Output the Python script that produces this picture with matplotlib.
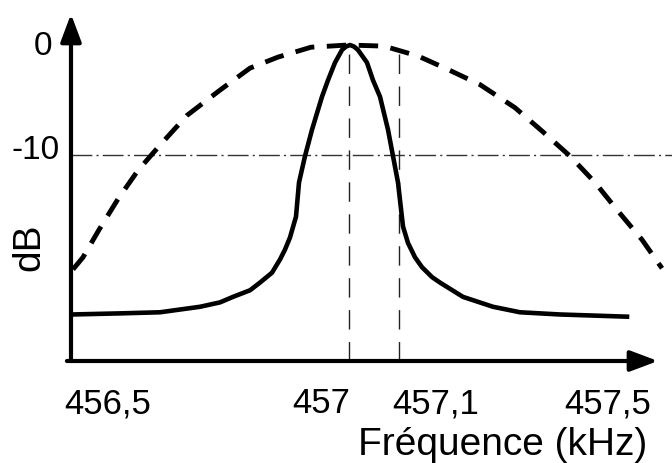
import matplotlib
matplotlib.use('Agg')
import matplotlib.pyplot as plt
import matplotlib.transforms as mtrans

plt.rcParams['font.family'] = ['Liberation Sans', 'DejaVu Sans']
plt.rcParams['lines.scale_dashes'] = False

# --- data (kHz, dB) ---
# narrow filter response (solid)
freq_filtre = [456.446, 456.542, 456.622, 456.702, 456.742, 456.768, 456.802,
               456.822, 456.846, 456.862, 456.872, 456.882, 456.894, 456.900,
               456.912, 456.926, 456.946, 456.958, 456.972, 456.986, 456.994,
               457.002, 457.010, 457.018, 457.036, 457.048, 457.062, 457.078,
               457.088, 457.098, 457.108, 457.118, 457.132, 457.146, 457.166,
               457.182, 457.228, 457.288, 457.342, 457.422, 457.556]
db_filtre = [-24.5, -24.4, -24.3, -23.8, -23.4, -22.9, -22.3,
             -21.6, -20.7, -19.5, -18.6, -17.5, -15.6, -12.5,
             -10.1, -7.7, -4.7, -3.2, -1.6, -0.45, -0.14,
             0.0, -0.14, -0.45, -1.6, -3.2, -4.7, -7.7,
             -10.1, -12.5, -16.5, -18.0, -19.3, -20.2, -21.1,
             -21.6, -22.9, -23.8, -24.3, -24.5, -24.7]

# wide band response (dashed)
freq_large = [456.448, 456.468, 456.500, 456.538, 456.578, 456.622, 456.676,
              456.742, 456.802, 456.858, 456.924, 456.998, 457.070, 457.138,
              457.192, 457.262, 457.332, 457.388, 457.442, 457.492, 457.538,
              457.586, 457.626]
db_large = [-20.4, -19.3, -16.8, -14.0, -11.4, -9.1, -6.4,
            -4.1, -2.1, -1.1, -0.2, 0.0, -0.1, -1.0,
            -2.1, -3.6, -5.7, -7.9, -10.1, -12.5, -15.1,
            -17.7, -20.3]

f_marques = [457.0, 457.1]
niveau_ref = -10

xtick_vals = [456.5, 457.0, 457.1, 457.5]
xtick_labels = ['456,5', '457', '457,1', '457,5']
ytick_vals = [0, -10]
ytick_labels = ['0', '-10']

# --- figure ---
fig = plt.figure(figsize=(6.72, 4.63), dpi=100)
ax = fig.add_axes([71 / 672, 102 / 463, 587 / 672, 347 / 463])
ax.set_xlim(456.444, 457.618)
ax.set_ylim(-28.73, 2.82)
for sp in ax.spines.values():
    sp.set_visible(False)
ax.set_xticks([])
ax.set_yticks([])

# axes as arrows
arrow = dict(arrowstyle='-|>,head_length=1.2,head_width=0.45', lw=3, color='black',
             mutation_scale=14, shrinkA=0, shrinkB=0)
ax.annotate('', xy=(0, 1), xytext=(0, 0), xycoords='axes fraction', arrowprops=arrow)
ax.annotate('', xy=(1, 0), xytext=(-0.007, 0), xycoords='axes fraction', arrowprops=arrow)

# -10 dB reference and the two frequency markers
ax.axhline(niveau_ref, xmin=0, xmax=1.024, color='#333333', lw=1.0,
           linestyle=(0, (15, 3, 1.5, 3)), clip_on=False)
ax.vlines(f_marques, ax.get_ylim()[0], 0, color='#222222', lw=1.0,
          linestyles=[(0, (14, 9))])

# curves
ax.plot(freq_large, db_large, color='black', lw=3.5, linestyle=(0, (14, 9)),
        clip_on=False)
ax.plot(freq_filtre, db_filtre, color='black', lw=3.3, solid_joinstyle='round',
        clip_on=False)

# tick labels (sketch style: placed by hand relative to their values)
xoff = [9, 1, -7, 9]
xha = ['center', 'right', 'left', 'center']
for v, lab, dx, ha in zip(xtick_vals, xtick_labels, xoff, xha):
    tr = mtrans.blended_transform_factory(ax.transData, ax.transAxes) + \
        mtrans.ScaledTranslation(dx / 100, -26 / 100, fig.dpi_scale_trans)
    ax.text(v, 0, lab, transform=tr, ha=ha, va='top', fontsize=25)

yoff = [(-19, -1), (-11, 4)]
for v, lab, (dx, dy) in zip(ytick_vals, ytick_labels, yoff):
    tr = mtrans.blended_transform_factory(ax.transAxes, ax.transData) + \
        mtrans.ScaledTranslation(dx / 100, dy / 100, fig.dpi_scale_trans)
    ax.text(0, v, lab, transform=tr, ha='right', va='center', fontsize=24)

ax.set_xlabel('Fréquence (kHz)', fontsize=28, loc='right')
ax.xaxis.set_label_coords(0.981, -0.190)
ax.xaxis.label.set_va('top')
ax.set_ylabel('dB', fontsize=28)
ax.yaxis.set_label_coords(-0.0716, 0.328)
ax.yaxis.label.set_va('center')

plt.savefig('out.png', dpi=100)
